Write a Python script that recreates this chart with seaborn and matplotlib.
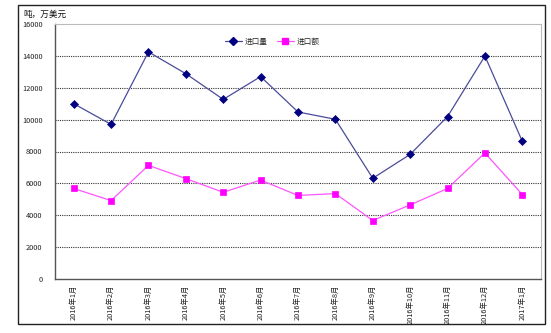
import matplotlib
matplotlib.use("Agg")
import matplotlib.pyplot as plt
from matplotlib.patches import Rectangle
from matplotlib.lines import Line2D
import numpy as np
import pandas as pd
import seaborn as sns

# 月份与两项指标（吨 / 万美元）
months = ["2016年1月", "2016年2月", "2016年3月", "2016年4月", "2016年5月",
          "2016年6月", "2016年7月", "2016年8月", "2016年9月", "2016年10月",
          "2016年11月", "2016年12月", "2017年1月"]
import_volume = [11000, 9700, 14250, 12880, 11270, 12700, 10480,
                 10020, 6320, 7820, 10190, 13990, 8640]
import_value = [5680, 4920, 7130, 6300, 5440, 6210, 5240,
                5360, 3670, 4650, 5680, 7910, 5300]
y_ticks = [0, 2000, 4000, 6000, 8000, 10000, 12000, 14000, 16000]
series_names = ["进口量", "进口额"]
unit_label = "吨，万美元"

sns.set_style("white")
plt.rcParams["font.family"] = ["Noto Sans CJK SC", "DejaVu Sans"]

pos = np.arange(len(months))
df = pd.DataFrame({
    "pos": np.concatenate([pos, pos]),
    "值": import_volume + import_value,
    "指标": [series_names[0]] * len(months) + [series_names[1]] * len(months),
})

colors = {series_names[0]: "#000080", series_names[1]: "#FF00FF"}
line_colors = {series_names[0]: "#4B4B9A", series_names[1]: "#FF55FF"}
markers = {series_names[0]: "D", series_names[1]: "s"}
msize = {series_names[0]: 3.6, series_names[1]: 4.4}

fig = plt.figure(figsize=(5.51, 3.33), dpi=100)
ax = fig.add_axes([55 / 551, 1 - 279 / 333, (541 - 55) / 551, (279 - 24) / 333])

for name in series_names:
    sub = df[df["指标"] == name]
    sns.lineplot(data=sub, x="pos", y="值", ax=ax, color=line_colors[name],
                 linewidth=0.9, marker=markers[name], markersize=msize[name],
                 markerfacecolor=colors[name], markeredgecolor=colors[name],
                 markeredgewidth=0.5, legend=False, zorder=3)

ax.set_xlim(-0.5, len(months) - 0.5)
ax.set_ylim(0, 16000)
ax.set_yticks(y_ticks)
ax.set_yticklabels([str(v) for v in y_ticks], fontsize=5.3, color="#222222")
ax.set_xticks(pos)
ax.set_xticklabels(months, rotation=90, fontsize=5.3, color="#222222")
ax.set_xticks(np.arange(-0.5, len(months), 1.0), minor=True)
ax.tick_params(axis="x", which="major", length=0, pad=4)
ax.tick_params(axis="x", which="minor", direction="in", length=3, width=0.8, color="#444444")
ax.tick_params(axis="y", length=0, pad=9)
ax.set_xlabel("")
ax.set_ylabel("")

for v in y_ticks[1:-1]:
    ax.axhline(v, color="#333333", linewidth=0.8, linestyle=(0, (1, 1)), zorder=1)

ax.spines["left"].set_color("#555555")
ax.spines["bottom"].set_color("#555555")
ax.spines["left"].set_linewidth(1.0)
ax.spines["bottom"].set_linewidth(1.0)
ax.spines["top"].set_color("#BBBBBB")
ax.spines["right"].set_color("#BBBBBB")
ax.spines["top"].set_linewidth(0.8)
ax.spines["right"].set_linewidth(0.8)

handles = [Line2D([], [], color=line_colors[n], linewidth=0.9, marker=markers[n],
                  markersize=msize[n], markerfacecolor=colors[n],
                  markeredgecolor=colors[n]) for n in series_names]
fig.legend(handles, series_names, loc="center", bbox_to_anchor=(272 / 551, 1 - 42 / 333),
           ncol=2, frameon=False, fontsize=5.5, handlelength=2.3, handletextpad=0.3,
           columnspacing=1.2)

fig.text(23 / 551, 1 - 14 / 333, unit_label, fontsize=6.2, ha="left", va="center",
         color="#111111")

fig.patches.append(Rectangle((18 / 551, 1 - 324 / 333), (545 - 18) / 551, (324 - 5) / 333,
                             transform=fig.transFigure, fill=False,
                             edgecolor="#222222", linewidth=1.0))

fig.savefig("out.png", dpi=100)
